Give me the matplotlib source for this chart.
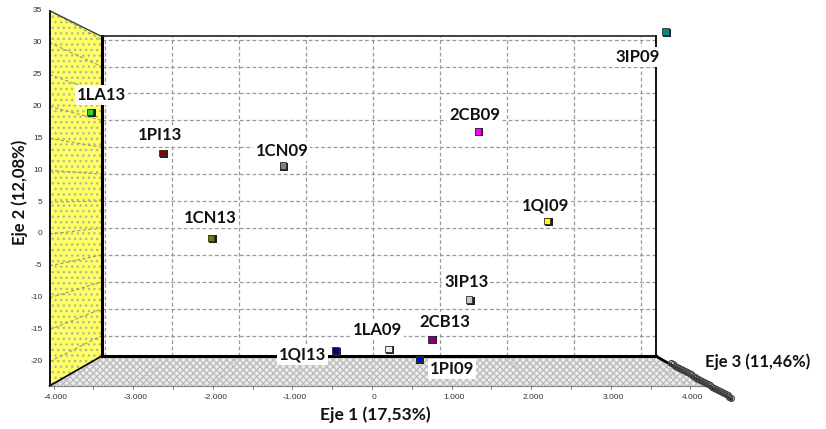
import matplotlib
matplotlib.use("Agg")
import matplotlib.pyplot as plt
from matplotlib.patches import Polygon
import numpy as np

# ---------------- data (apparent positions on the projected front plane) ----------------
names = ["1LA13", "1PI13", "1CN09", "1CN13", "2CB09", "1QI09",
         "3IP09", "3IP13", "2CB13", "1LA09", "1QI13", "1PI09"]
eje1 = [-3.54, -2.63, -1.12, -2.02, 1.33, 2.20, 3.69, 1.22, 0.75, 0.21, -0.46, 0.59]
eje2 = [19.1, 12.7, 10.7, -0.6, 16.1, 2.0, 31.7, -10.3, -16.5, -18.0, -18.3, -19.6]
colors = ["#22dd22", "#8b0000", "#808080", "#7a7a00", "#ff00ff", "#ffff00",
          "#008b8b", "#c8c8c8", "#800080", "#f0f0f0", "#000080", "#0000ff"]
# label offsets (pixels) relative to each marker
lab_dx = [11, -3, -1, -1, -3, -2, -28, -3, 13, -11, -33, 33]
lab_dy = [17, 18, 15, 20, 16, 16, -25, 18, 17, 19, -4, -10]

x_ticks = [-4, -3, -2, -1, 0, 1, 2, 3, 4]
x_tick_labels = ["-4.000", "-3.000", "-2.000", "-1.000", "0", "1.000", "2.000", "3.000", "4.000"]
y_ticks = [35, 30, 25, 20, 15, 10, 5, 0, -5, -10, -15, -20]
y_tick_labels = [str(v) for v in y_ticks]

title_x = "Eje 1 (17,53%)"
title_y = "Eje 2 (12,08%)"
title_z = "Eje 3 (11,46%)"

# ---------------- geometry of the 3D box ----------------
PX_X0, PX_SX = 372.0, 79.6     # pixel of x=0, pixels per unit (front plane)
PX_Y0, PX_SY = 234.0, 6.38     # pixel row of y=0, pixels per unit
W, H = 826, 429
X0, X1 = -4.05, 4.22
Y0, Y1 = -23.8, 35.0

def back(x, y):
    """project a front-plane coordinate onto the back wall"""
    return 0.0126 + 0.8417 * np.asarray(x), 0.940 + 0.8433 * np.asarray(y)

fig = plt.figure(figsize=(W / 100, H / 100), dpi=100)
ax = fig.add_axes([0, 0, 1, 1])
ax.set_xlim(-PX_X0 / PX_SX, (W - PX_X0) / PX_SX)
ax.set_ylim((PX_Y0 - H) / PX_SY, PX_Y0 / PX_SY)
ax.axis("off")

bx0, by0 = back(X0, Y0)
bx1, by1 = back(X1, Y1 + 0.6)

# left (yellow) wall
wall = Polygon([(X0, Y0), (X0, Y1), (bx0, by1), (bx0, by0)], closed=True,
               facecolor="#ffff66", edgecolor="#b8b890", hatch="...", linewidth=0, zorder=1)
ax.add_patch(wall)
# floor
floor = Polygon([(X0, Y0), (X1, Y0), (bx1, by0), (bx0, by0)], closed=True,
                facecolor="#eeeeee", edgecolor="#bcbcbc", hatch="xxxxx", linewidth=0, zorder=1)
ax.add_patch(floor)

gkw = dict(color="#9a9a9a", lw=0.9, dashes=(3, 2), zorder=2)
# back wall grid
for xv in x_ticks:
    bx, _ = back(xv, 0)
    ax.plot([bx, bx], [by0, by1], **gkw)
for yv in y_ticks:
    _, by = back(0, yv)
    ax.plot([bx0, bx1], [by, by], **gkw)
    # left wall lines
    ax.plot([X0, bx0], [yv, by], color="#9a9a70", lw=0.8, dashes=(3, 2), zorder=2)
# floor lines
for xv in x_ticks:
    bx, _ = back(xv, 0)
    ax.plot([xv, bx], [Y0, by0], color="#c0c0c0", lw=0.8, dashes=(3, 2), zorder=2)

# box edges
ax.plot([X0, X0], [Y0, Y1], color="black", lw=1.3, zorder=3)
ax.plot([X0, bx0], [Y1, by1], color="#404040", lw=1.0, zorder=3)
ax.plot([X0, bx0], [Y0, by0], color="black", lw=1.2, zorder=3)
ax.plot([bx0, bx0], [by0, by1], color="black", lw=2.2, zorder=3)
ax.plot([bx0, bx1], [by1, by1], color="#202020", lw=1.2, zorder=3)
ax.plot([bx1, bx1], [by0, by1], color="black", lw=1.3, zorder=3)
ax.plot([bx0, bx1], [by0, by0], color="black", lw=2.2, zorder=3)
ax.plot([X0, X1], [Y0, Y0], color="#808080", lw=0.8, zorder=3)

# Eje 3 axis (cluttered depth axis running out of the floor's right edge)
t = np.linspace(0, 1, 40)
ex = bx1 + (X1 - bx1) * (t * 1.45)
ey = by0 + (Y0 - by0) * (t * 1.45)
ax.plot(ex, ey, color="black", lw=2.0, zorder=4)
ax.plot(ex[8:], ey[8:] + 0.25, "o", ms=4.2, mfc="none", mec="#444444", mew=0.9, zorder=4)

# tick marks and labels
for v in np.arange(-4, 4.01, 0.5):
    ax.plot([v, v], [Y0, Y0 - 0.45], color="#707070", lw=0.6, zorder=3)
for v, s in zip(x_ticks, x_tick_labels):
    ax.text(v + 0.03, Y0 - 1.8, s, ha="center", va="center", fontsize=6,
            family="Liberation Sans", color="#333333")
for v, s in zip(y_ticks, y_tick_labels):
    ax.text(X0 - 0.09, v, s, ha="right", va="center", fontsize=6,
            family="Liberation Sans", color="#333333")

# data points (small cubes: dark shadow + coloured face)
ax.scatter(np.array(eje1) + 1.5 / PX_SX, np.array(eje2) - 1.2 / PX_SY, s=28, marker="s",
           color="#202020", zorder=5, linewidths=0)
ax.scatter(eje1, eje2, s=22, marker="s", c=colors, edgecolors="#303030",
           linewidths=0.6, zorder=6)

for n, x, y, dx, dy in zip(names, eje1, eje2, lab_dx, lab_dy):
    ax.annotate(n, (x, y), xytext=(dx, dy), textcoords="offset pixels",
                ha="center", va="center", fontsize=12, fontweight="bold",
                family="Lato", color="#111111", zorder=7,
                bbox=dict(boxstyle="square,pad=0.12", fc="white", ec="none"))

# axis titles
ax.text(0.04, -28.3, title_x, ha="center", va="center", fontsize=12.5,
        fontweight="bold", family="Lato", color="#111111")
ax.text(-4.42, 6.5, title_y, ha="center", va="center", rotation=90, fontsize=12,
        fontweight="bold", family="Lato", color="#111111")
ax.text(4.18, -20.0, title_z, ha="left", va="center", fontsize=12,
        fontweight="bold", family="Lato", color="#111111")

fig.savefig("out.png", dpi=100)
